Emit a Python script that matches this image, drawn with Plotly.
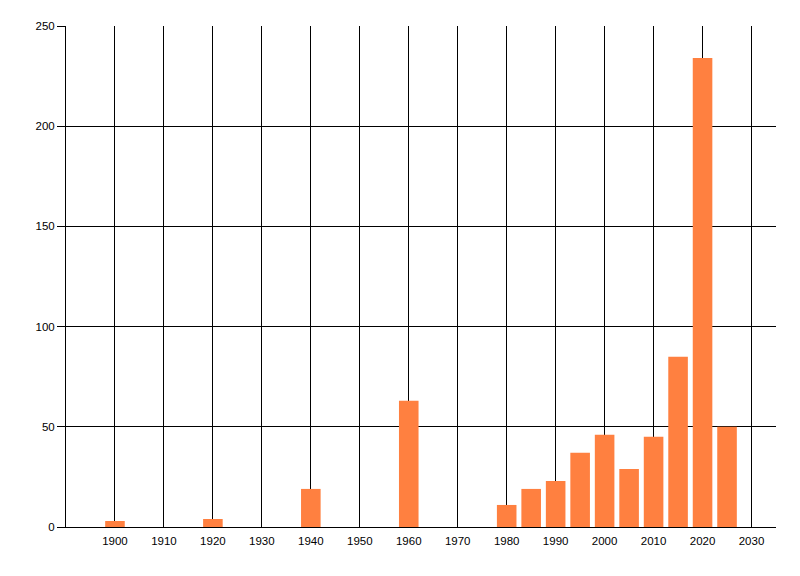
import plotly.graph_objects as go

years = [1900, 1920, 1940, 1960, 1980, 1985, 1990, 1995, 2000, 2005, 2010, 2015, 2020, 2025]
counts = [3, 4, 19, 63, 11, 19, 23, 37, 46, 29, 45, 85, 234, 50]
x_ticks = list(range(1900, 2031, 10))
y_ticks = [0, 50, 100, 150, 200, 250]

fig = go.Figure(
    go.Bar(
        x=years,
        y=counts,
        width=4,
        marker=dict(color="#FF8040", line=dict(width=0)),
        hoverinfo="x+y",
    )
)

fig.update_layout(
    width=800,
    height=576,
    margin=dict(l=58, r=32, t=18, b=57),
    paper_bgcolor="white",
    plot_bgcolor="white",
    showlegend=False,
    font=dict(family="Liberation Sans, Arial, sans-serif", size=11.5, color="black"),
)

fig.update_xaxes(
    range=[1890, 2035],
    tickvals=x_ticks,
    ticktext=[str(v) for v in x_ticks],
    showgrid=True,
    gridcolor="black",
    gridwidth=1,
    showline=True,
    linecolor="black",
    linewidth=1,
    ticks="",
    ticklabelstandoff=3,
    zeroline=False,
)

fig.update_yaxes(
    range=[0, 250],
    tickvals=y_ticks,
    showgrid=True,
    gridcolor="black",
    gridwidth=1,
    showline=True,
    linecolor="black",
    linewidth=1,
    ticks="outside",
    ticklen=8,
    tickcolor="black",
    zeroline=False,
)

fig.write_html("out.html")
